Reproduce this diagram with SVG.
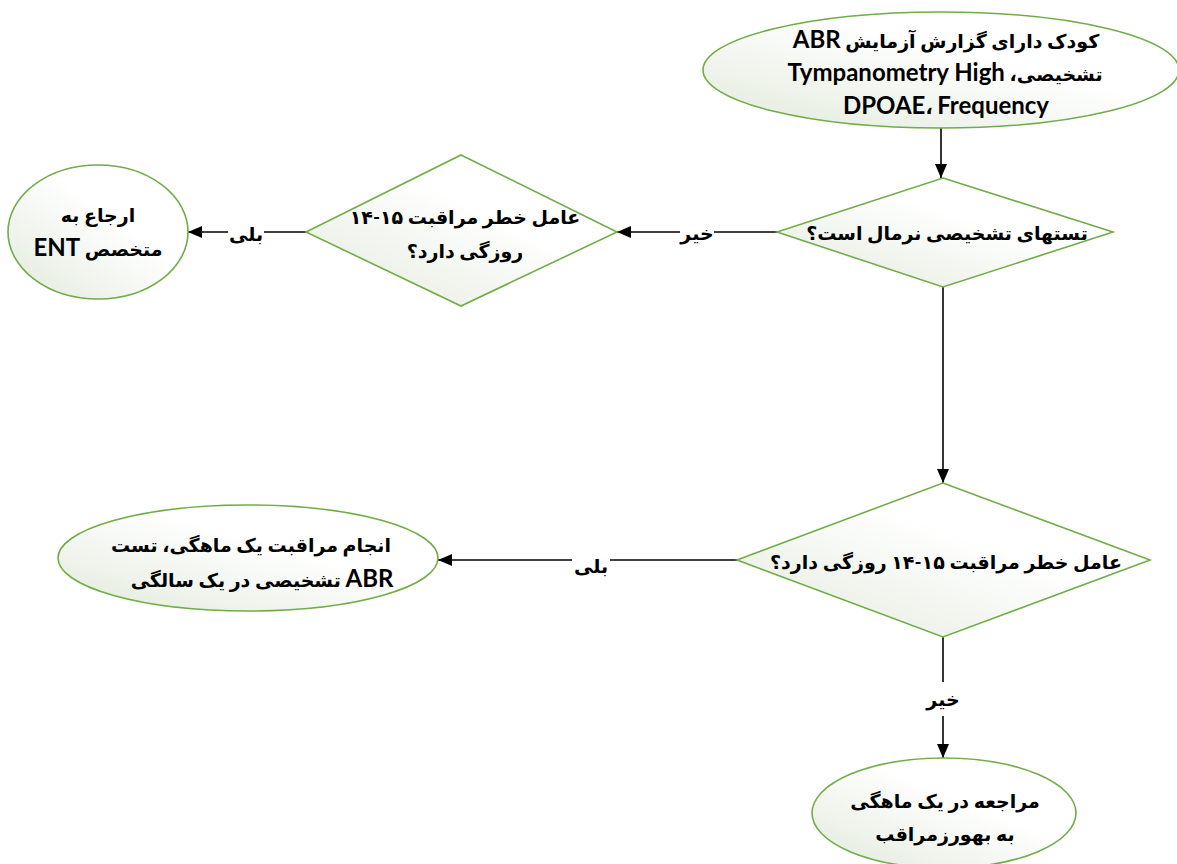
<svg xmlns="http://www.w3.org/2000/svg" width="1177" height="864" viewBox="0 0 1177 864">
<defs>
<linearGradient id="g" x1="0" y1="1" x2="1" y2="0">
<stop offset="0" stop-color="#e2eadc"/>
<stop offset="0.6" stop-color="#ffffff"/>
</linearGradient>
<marker id="arr" viewBox="0 0 14 12" refX="14" refY="6" markerWidth="14" markerHeight="12" markerUnits="userSpaceOnUse" orient="auto">
<path d="M0,0 L14,6 L0,12 z" fill="#000"/>
</marker>
<style>
.shape{fill:url(#g);stroke:#70AD47;stroke-width:1.6}
.conn{stroke:#000;stroke-width:1.6;fill:none}
.t{font-family:"Lato","DejaVu Sans",sans-serif;font-weight:bold;font-size:19px;fill:#000;text-anchor:middle}
.en{font-family:"Lato",sans-serif;font-size:24px;font-weight:bold}
.lbl{font-family:"DejaVu Sans",sans-serif;font-weight:bold;font-size:19px;fill:#000;text-anchor:middle}
</style>
</defs>
<rect width="1177" height="864" fill="#fff"/>

<g id="connectors">
<line class="conn" x1="941" y1="128" x2="941" y2="178" marker-end="url(#arr)"/>
<line class="conn" x1="777" y1="232" x2="617" y2="232" marker-end="url(#arr)"/>
<line class="conn" x1="306" y1="232" x2="188" y2="232" marker-end="url(#arr)"/>
<line class="conn" x1="943" y1="287" x2="943" y2="483" marker-end="url(#arr)"/>
<line class="conn" x1="737" y1="560" x2="438" y2="560" marker-end="url(#arr)"/>
<line class="conn" x1="943" y1="637" x2="943" y2="758" marker-end="url(#arr)"/>
<rect x="680" y="222" width="34" height="22" fill="#fff"/>
<text class="lbl" x="697" y="240" direction="rtl">خیر</text>
<rect x="228" y="222" width="36" height="22" fill="#fff"/>
<text class="lbl" x="246" y="241" direction="rtl">بلی</text>
<rect x="572" y="552" width="38" height="26" fill="#fff"/>
<text class="lbl" x="591" y="573" direction="rtl">بلی</text>
<rect x="928" y="682" width="30" height="34" fill="#fff"/>
<text class="lbl" x="943" y="706" direction="rtl">خیر</text>
</g>

<g id="start">
<ellipse class="shape" cx="941" cy="70" rx="238" ry="58"/>
<text class="t" x="946" y="48" direction="rtl">کودک دارای گزارش آزمایش <tspan class="en">ABR</tspan></text>
<text class="t" x="945" y="81" direction="rtl">تشخیصی، <tspan class="en">Tympanometry High</tspan></text>
<text class="t" x="946" y="114" direction="ltr"><tspan class="en">DPOAE</tspan>، <tspan class="en">Frequency</tspan></text>
</g>

<g id="d1">
<polygon class="shape" points="943,178 1113,232 943,287 777,232"/>
<text class="t" x="947" y="240" direction="rtl">تستهای تشخیصی نرمال است؟</text>
</g>

<g id="d2">
<polygon class="shape" points="461,155 617,232 461,306 306,232"/>
<text class="t" x="465" y="224" direction="rtl">عامل خطر مراقبت ۱۵-۱۴</text>
<text class="t" x="465" y="258" direction="rtl">روزگی دارد؟</text>
</g>

<g id="ent">
<ellipse class="shape" cx="98" cy="232" rx="90" ry="67"/>
<text class="t" x="98" y="222" direction="rtl">ارجاع به</text>
<text class="t" x="98" y="256" direction="rtl">متخصص <tspan class="en">ENT</tspan></text>
</g>

<g id="d3">
<polygon class="shape" points="943,483 1150,560 943,637 737,560"/>
<text class="t" x="946" y="569" direction="rtl">عامل خطر مراقبت ۱۵-۱۴ روزگی دارد؟</text>
</g>

<g id="care">
<ellipse class="shape" cx="248" cy="558" rx="190" ry="53"/>
<text class="t" x="251" y="552" direction="rtl">انجام مراقبت یک ماهگی، تست</text>
<text class="t" x="262" y="587" direction="rtl"><tspan class="en">ABR</tspan> تشخیصی در یک سالگی</text>
</g>

<g id="visit">
<ellipse class="shape" cx="944" cy="813" rx="132" ry="55"/>
<text class="t" x="945" y="808" direction="rtl">مراجعه در یک ماهگی</text>
<text class="t" x="945" y="841" direction="rtl">به بهورزمراقب</text>
</g>
</svg>
